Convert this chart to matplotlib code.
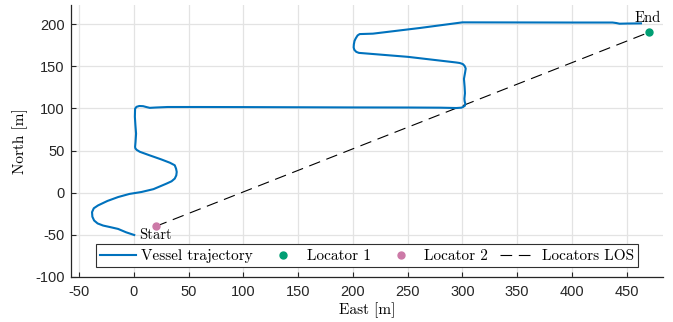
import matplotlib
matplotlib.use("Agg")
import matplotlib.pyplot as plt

# Vessel trajectory (East, North) in metres
traj_east = [0.4, -7, -14.3, -21, -28, -33, -36.2, -37.8, -38.1, -36.5, -32.6, -24, -14.3, -4, 7,
             18, 29.8, 34.5, 37.4, 38.8, 39.2, 38.6, 37.4, 33, 25, 14, 5.5, 2.6, 1.5, 1.2, 1.6, 2.1,
             1.5, 1, 1.2, 2.5, 5, 8.5, 12, 14.6, 20, 31, 60, 100, 150, 200, 250, 280, 294.4, 299,
             300.5, 302.3, 302.6, 302, 301.8, 302.3, 302, 301.4, 302.5, 303, 302, 300.5, 298.5,
             297.5, 294.4, 250.2, 212.2, 205.5, 203.1, 201.3, 200.7, 200.9, 201.5, 202.6, 204.3,
             206.2, 218.3, 261, 300, 350, 400, 437, 440.5, 443.4, 450, 463]
traj_north = [-50.2, -47, -43, -41, -39, -36.5, -33, -28.5, -23.1, -18.5, -15.1, -9.8, -5.2, -1.5, 0.8,
              4.2, 10.7, 13.5, 16.7, 20.5, 24.6, 28.5, 32.5, 35.5, 39.5, 44.5, 48.5, 50.8, 52.5, 54.3, 60, 70,
              80, 90, 99.6, 101.8, 102.8, 102.6, 101.4, 100.6, 101, 101.6, 101.6, 101.5, 101.3, 101.1, 101,
              100.8, 100.4, 100.8, 101.6, 103.2, 105.6, 108.5, 111.5, 118, 125.4, 135, 143, 147.2, 150.3,
              152.4, 153.4, 153.8, 154.4, 161.1, 165.1, 165.8, 167, 169.5, 172.3, 176, 180, 183,
              186.5, 188.1, 188.6, 195.3, 202, 201.9, 201.8, 201.8, 201.2, 200.4, 200.6, 200.8]

locator1 = (470, 190)
locator2 = (20, -40)

xticks = [-50, 0, 50, 100, 150, 200, 250, 300, 350, 400, 450]
yticks = [-100, -50, 0, 50, 100, 150, 200]

fig = plt.figure(figsize=(6.73, 3.22), dpi=100)
ax = fig.add_axes([0.1055, 0.1398, 0.8795, 0.8447])

serif = 'cmr10'
blue = '#0072BD'
green = '#009E73'
pink = '#CC79A7'

ax.plot(traj_east, traj_north, color=blue, lw=1.5, label='Vessel trajectory', zorder=3,
        solid_joinstyle='round')
ax.plot([locator1[0]], [locator1[1]], 'o', color=green, ms=5, ls='none', label='Locator 1', zorder=4)
ax.plot([locator2[0]], [locator2[1]], 'o', color=pink, ms=5, ls='none', label='Locator 2', zorder=4)
ax.plot([locator2[0], locator1[0]], [locator2[1], locator1[1]], color='black', lw=0.8,
        dashes=(10.5, 6), label='Locators LOS', zorder=2)

ax.text(locator2[0], locator2[1] - 2.0, 'Start', family=serif, fontsize=10.5, ha='center', va='top')
ax.text(locator1[0] - 1, locator1[1] + 8.5, 'End', family=serif, fontsize=10.5, ha='center', va='bottom')

ax.set_xlim(-57.3, 483)
ax.set_ylim(-100, 222.6)
ax.set_xticks(xticks)
ax.set_yticks(yticks)
ax.set_xticklabels([str(v) for v in xticks])
ax.set_yticklabels([str(v) for v in yticks])

ax.grid(True, color='#e3e3e3', lw=0.9)
ax.set_axisbelow(True)
for s in ['top', 'right']:
    ax.spines[s].set_visible(False)
for s in ['left', 'bottom']:
    ax.spines[s].set_color('#262626')
    ax.spines[s].set_linewidth(0.9)
ax.tick_params(direction='in', length=3.6, width=0.8, colors='#262626', labelsize=10.5)
ax.tick_params(axis='x', pad=6)
ax.tick_params(axis='y', pad=4.5)
for lab in ax.get_xticklabels() + ax.get_yticklabels():
    lab.set_family('Liberation Sans')

ax.set_xlabel('East [m]', family=serif, fontsize=11, labelpad=2)
ax.set_ylabel('North [m]', family=serif, fontsize=11, labelpad=5)

leg = ax.legend(loc='lower center', ncol=4, bbox_to_anchor=(0.5, 0.035),
                prop={'family': serif, 'size': 11}, frameon=True, fancybox=False,
                edgecolor='#303030', framealpha=1, handlelength=2.35, columnspacing=0.8,
                borderpad=0.3, handletextpad=0.35, borderaxespad=0.0)
leg.get_frame().set_linewidth(0.8)

fig.savefig('out.png', dpi=100)
